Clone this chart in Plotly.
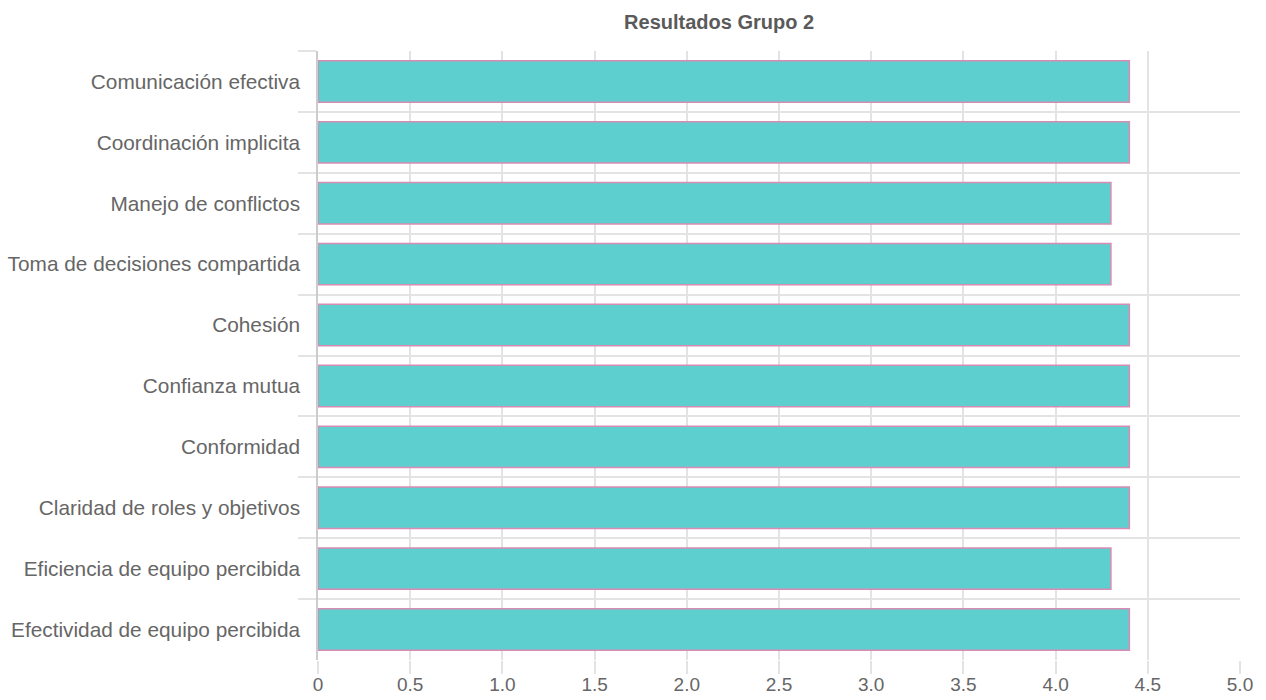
import plotly.graph_objects as go

categories = [
    "Comunicación efectiva",
    "Coordinación implicita",
    "Manejo de conflictos",
    "Toma de decisiones compartida",
    "Cohesión",
    "Confianza mutua",
    "Conformidad",
    "Claridad de roles y objetivos",
    "Eficiencia de equipo percibida",
    "Efectividad de equipo percibida",
]
scores = [4.4, 4.4, 4.3, 4.3, 4.4, 4.4, 4.4, 4.4, 4.3, 4.4]

tick_values = [0, 0.5, 1.0, 1.5, 2.0, 2.5, 3.0, 3.5, 4.0, 4.5, 5.0]
tick_labels = ["0", "0.5", "1.0", "1.5", "2.0", "2.5", "3.0", "3.5", "4.0", "4.5", "5.0"]

text_color = "#666666"
grid_color = "#e3e3e3"
font_family = "Liberation Sans, Arial, sans-serif"

fig = go.Figure(
    go.Bar(
        x=scores,
        y=categories,
        orientation="h",
        marker=dict(color="#5ecfcf", line=dict(color="#d98cb3", width=1.5)),
        hoverinfo="x+y",
    )
)

fig.update_layout(
    width=1266,
    height=700,
    margin=dict(l=318, r=26, t=51, b=40),
    paper_bgcolor="white",
    plot_bgcolor="white",
    bargap=0.32,
    showlegend=False,
    font=dict(family=font_family, color=text_color, size=20),
    title=dict(
        text="<b>Resultados Grupo 2</b>",
        x=0.568,
        xref="container",
        xanchor="center",
        y=0.968,
        yref="container",
        yanchor="middle",
        font=dict(size=20, color="#5a5a5a", family=font_family),
    ),
    xaxis=dict(
        range=[0, 5],
        tickvals=tick_values,
        ticktext=tick_labels,
        automargin=False,
        showgrid=True,
        gridcolor=grid_color,
        gridwidth=1.5,
        zeroline=False,
        showline=False,
        ticks="outside",
        ticklen=13,
        tickcolor=grid_color,
        tickwidth=1.5,
        ticklabelstandoff=-6,
        tickfont=dict(size=19, color=text_color),
        fixedrange=True,
    ),
    yaxis=dict(
        autorange="reversed",
        automargin=False,
        tickson="boundaries",
        showgrid=True,
        gridcolor=grid_color,
        gridwidth=1.5,
        ticks="outside",
        ticklen=18,
        tickcolor=grid_color,
        tickwidth=1.5,
        ticklabelstandoff=12,
        showline=True,
        linecolor="#cccccc",
        linewidth=1.5,
        tickfont=dict(size=20.8, color=text_color),
        fixedrange=True,
    ),
)

fig.write_html("out.html")
